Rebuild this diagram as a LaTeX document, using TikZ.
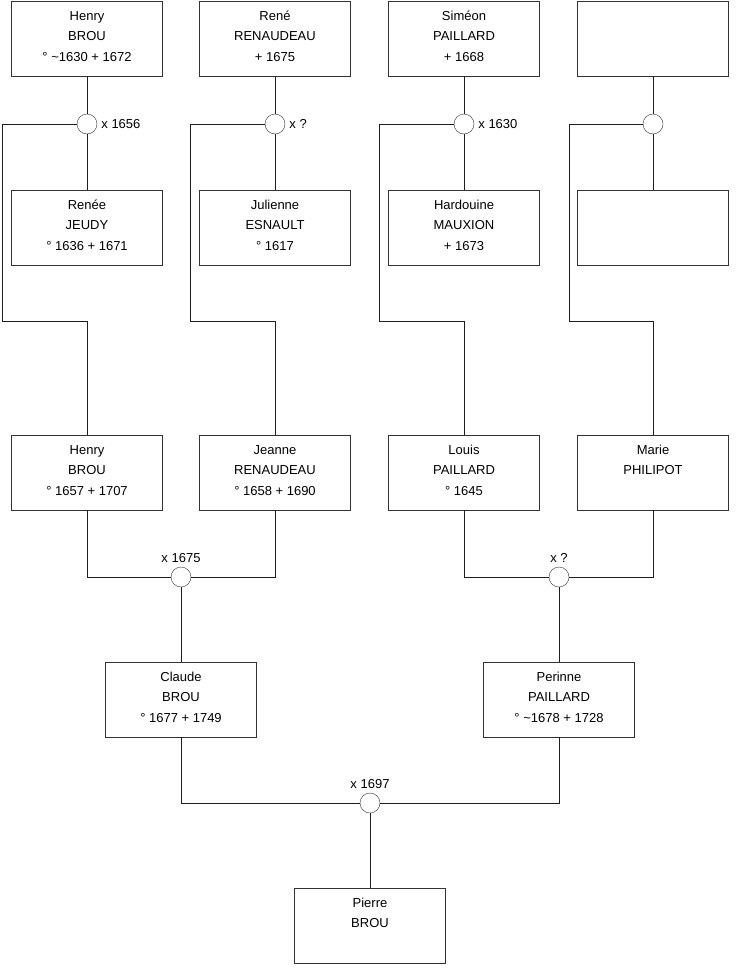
\documentclass[tikz,border=0pt]{standalone}
\usepackage{fontspec}
\setmainfont{Liberation Sans}
\usepackage{xcolor}
\definecolor{boxline}{RGB}{51, 51, 51}
\definecolor{linkgray}{RGB}{30, 30, 30}
\usepackage{tikz}
\usetikzlibrary{positioning}
\newcommand{\person}[3]{\strut#1\\\strut#2\\#3\rule[-10pt]{0pt}{24pt}}
\tikzset{
  personbox/.style={draw=boxline, fill=white, anchor=north,
    minimum width=151pt, minimum height=75pt, inner sep=0pt,
    align=center, font=\fontsize{13}{20}\selectfont},
  unionnode/.style={circle, draw=boxline, fill=white,
    minimum size=20pt, inner sep=0pt},
  unionlabel/.style={inner sep=1pt, font=\fontsize{13}{16}\selectfont},
  linkline/.style={draw=linkgray, line width=0.9pt}
}

\begin{document}
\begin{tikzpicture}[x=1pt, y=-1pt]

  \useasboundingbox (0,0) rectangle (740,975);

  % great-grandparents
  \node[personbox] (a1) at (87,1) {\person{Henry}{BROU}{° \textasciitilde1630 + 1672}};
  \node[personbox] (a2) at (275,1) {\person{René}{RENAUDEAU}{+ 1675}};
  \node[personbox] (a3) at (464,1) {\person{Siméon}{PAILLARD}{+ 1668}};
  \node[personbox] (a4) at (653,1) {};

  \node[personbox] (b1) at (87,190) {\person{Renée}{JEUDY}{° 1636 + 1671}};
  \node[personbox] (b2) at (275,190) {\person{Julienne}{ESNAULT}{° 1617}};
  \node[personbox] (b3) at (464,190) {\person{Hardouine}{MAUXION}{+ 1673}};
  \node[personbox] (b4) at (653,190) {};

  % grandparents
  \node[personbox] (g1) at (87,435) {\person{Henry}{BROU}{° 1657 + 1707}};
  \node[personbox] (g2) at (275,435) {\person{Jeanne}{RENAUDEAU}{° 1658 + 1690}};
  \node[personbox] (g3) at (464,435) {\person{Louis}{PAILLARD}{° 1645}};
  \node[personbox] (g4) at (653,435) {\person{Marie}{PHILIPOT}{}};

  % parents
  \node[personbox] (h1) at (181,662) {\person{Claude}{BROU}{° 1677 + 1749}};
  \node[personbox] (h2) at (559,662) {\person{Perinne}{PAILLARD}{° \textasciitilde1678 + 1728}};

  \node[personbox] (r1) at (370,888) {\person{Pierre}{BROU}{}};

  % unions
  \node[unionnode] (u1) at (87,124) {};
  \node[unionnode] (u2) at (275,124) {};
  \node[unionnode] (u3) at (464,124) {};
  \node[unionnode] (u4) at (653,124) {};
  \node[unionnode] (u5) at (181,577) {};
  \node[unionnode] (u6) at (559,577) {};
  \node[unionnode] (u7) at (370,803) {};

  \node[unionlabel, right=3pt of u1] {x 1656};
  \node[unionlabel, right=3pt of u2] {x ?};
  \node[unionlabel, right=3pt of u3] {x 1630};
  \node[unionlabel, above=3pt of u5] {x 1675};
  \node[unionlabel, above=3pt of u6] {x ?};
  \node[unionlabel, above=3pt of u7] {x 1697};

  \coordinate (k1) at (2,321);
  \coordinate (k2) at (190,321);
  \coordinate (k3) at (379,321);
  \coordinate (k4) at (569,321);

  \foreach \i in {1,2,3,4} {
    \draw[linkline] (a\i.south) -- (u\i.north);
    \draw[linkline] (u\i.south) -- (b\i.north);
    \draw[linkline] (u\i.west) -| (k\i) -| (g\i.north);
  }

  \draw[linkline] (g1.south) |- (u5.west);
  \draw[linkline] (g2.south) |- (u5.east);
  \draw[linkline] (u5.south) -- (h1.north);
  \draw[linkline] (g3.south) |- (u6.west);
  \draw[linkline] (g4.south) |- (u6.east);
  \draw[linkline] (u6.south) -- (h2.north);
  \draw[linkline] (h1.south) |- (u7.west);
  \draw[linkline] (h2.south) |- (u7.east);
  \draw[linkline] (u7.south) -- (r1.north);

\end{tikzpicture}
\end{document}
